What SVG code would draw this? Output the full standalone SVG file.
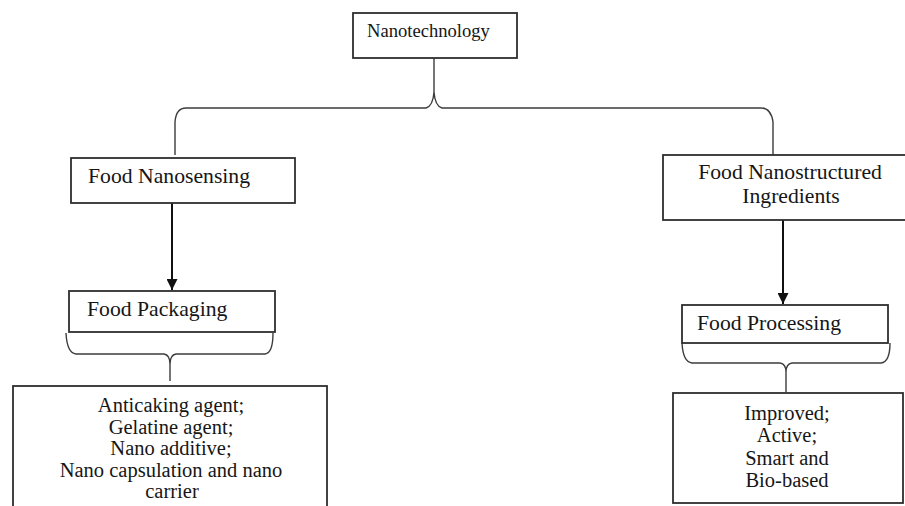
<svg xmlns="http://www.w3.org/2000/svg" width="905" height="506" viewBox="0 0 905 506">
<style>
.box{fill:#fff;stroke:#2e2e2e;stroke-width:1.8}
.t{font-family:"Liberation Serif","Times New Roman",serif;font-size:21.7px;fill:#161616}
.l{font-size:20.5px}
.c{text-anchor:middle}
.br{fill:none;stroke:#3c3c3c;stroke-width:1.4}
.ar{fill:none;stroke:#111;stroke-width:2}
</style>
<defs>
<marker id="ah" viewBox="0 0 10 10" refX="10" refY="5" markerWidth="11" markerHeight="11" markerUnits="userSpaceOnUse" orient="auto">
<path d="M0,0 L10,5 L0,10 Z" fill="#111"/>
</marker>
</defs>
<rect width="905" height="506" fill="#fff"/>
<g id="connectors">
<path class="br" d="M175,155 L175,122 Q176,108 186,108 L426,108 Q433,106 434,92 L434,58 M434,92 Q435,106 442,108 L761,108 Q771,108 773,122 L773,155"/>
<path class="ar" d="M172,203 L172,290" marker-end="url(#ah)"/>
<path class="ar" d="M783,220 L783,304" marker-end="url(#ah)"/>
<path class="br" d="M66,333 Q67,353 76,354 L164,354 Q170,355 170,364 L170,381 M170,364 Q170,355 176,354 L265,354 Q273,353 273,333"/>
<path class="br" d="M682,343 Q683,362 692,363 L780,363 Q786,364 786,372 L786,392 M786,372 Q786,364 792,363 L881,363 Q890,362 890,343"/>
</g>
<g id="nanotechnology">
<rect class="box" x="353" y="13" width="164" height="45"/>
<text class="t" x="367" y="37" style="font-size:18.6px">Nanotechnology</text>
</g>
<g id="food-nanosensing">
<rect class="box" x="71" y="158" width="224" height="45"/>
<text class="t" x="88" y="183">Food Nanosensing</text>
</g>
<g id="food-nanostructured">
<rect class="box" x="663" y="155" width="262" height="65"/>
<text class="t c" x="790" y="179">Food Nanostructured</text>
<text class="t c" x="791" y="203">Ingredients</text>
</g>
<g id="food-packaging">
<rect class="box" x="69" y="291" width="206" height="41"/>
<text class="t" x="87" y="316">Food Packaging</text>
</g>
<g id="food-processing">
<rect class="box" x="682" y="305" width="206" height="38"/>
<text class="t" x="697" y="330">Food Processing</text>
</g>
<g id="packaging-items">
<rect class="box" x="13" y="386" width="314" height="130"/>
<text class="t l c" x="171" y="412">Anticaking agent;</text>
<text class="t l c" x="171" y="433.5">Gelatine agent;</text>
<text class="t l c" x="171" y="455">Nano additive;</text>
<text class="t l c" x="171" y="476.5">Nano capsulation and nano</text>
<text class="t l c" x="172" y="498">carrier</text>
</g>
<g id="processing-items">
<rect class="box" x="673" y="393" width="230" height="110"/>
<text class="t l c" x="787" y="420">Improved;</text>
<text class="t l c" x="787" y="442">Active;</text>
<text class="t l c" x="787" y="464.5">Smart and</text>
<text class="t l c" x="787" y="487">Bio-based</text>
</g>
</svg>
